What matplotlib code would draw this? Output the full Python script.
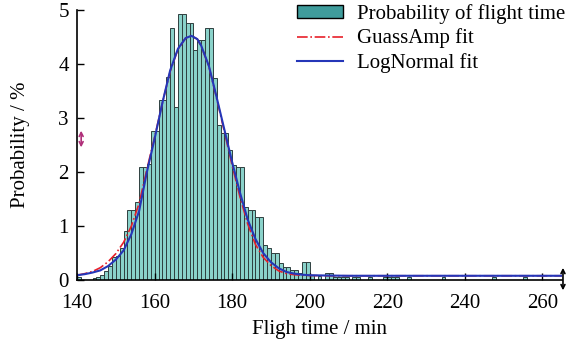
import matplotlib
matplotlib.use("Agg")
import matplotlib.pyplot as plt
from matplotlib.patches import Patch, FancyArrowPatch
from matplotlib.lines import Line2D

plt.rcParams['font.family'] = ['Liberation Serif', 'DejaVu Serif']
plt.rcParams['font.size'] = 15

# histogram: left edge of 1-min bins and probability (%)
bin_left = list(range(140, 265))
prob = [0.06, 0.0, 0.0, 0.0, 0.04, 0.05, 0.10, 0.17, 0.26, 0.43,   # 140-149
        0.45, 0.60, 0.90, 1.30, 1.30, 1.45, 2.10, 2.10, 2.15, 2.75,   # 150-159
        2.75, 3.33, 3.33, 3.75, 4.66, 3.20, 4.93, 4.93, 4.75, 4.75,   # 160-169
        4.26, 4.44, 4.44, 4.66, 4.66, 3.74, 2.87, 2.72, 2.72, 2.40,   # 170-179
        2.13, 2.10, 2.10, 1.35, 1.30, 1.30, 1.17, 1.17, 0.65, 0.60,   # 180-189
        0.50, 0.50, 0.31, 0.24, 0.24, 0.19, 0.19, 0.14, 0.33, 0.33,   # 190-199
        0.10, 0.0, 0.07, 0.0, 0.14, 0.14, 0.05, 0.05, 0.05, 0.05,     # 200-209
        0.0, 0.05, 0.05, 0.0, 0.0, 0.05, 0.0, 0.0, 0.0, 0.05,         # 210-219
        0.05, 0.05, 0.05, 0.0, 0.0, 0.05, 0.0, 0.0, 0.0, 0.0,         # 220-229
        0.0, 0.0, 0.0, 0.0, 0.05, 0.0, 0.0, 0.0, 0.0, 0.0,            # 230-239
        0.0, 0.0, 0.0, 0.0, 0.0, 0.0, 0.0, 0.05, 0.0, 0.0,            # 240-249
        0.0, 0.0, 0.0, 0.0, 0.0, 0.05, 0.0, 0.0, 0.0, 0.0,            # 250-259
        0.0, 0.0, 0.0, 0.0, 0.0]                                      # 260-264

# fitted curves
fit_t = [140, 142, 144, 146, 148, 150, 152, 154, 156, 158, 160, 162, 164, 166,
         168, 169.5, 171, 172, 174, 176, 178, 180, 182, 184, 186, 188, 190, 192,
         194, 196, 198, 200, 204, 210, 265]
lognormal = [0.09, 0.11, 0.14, 0.18, 0.26, 0.38, 0.55, 0.85, 1.28, 2.00, 2.62,
             3.28, 3.88, 4.28, 4.48, 4.52, 4.46, 4.34, 3.96, 3.38, 2.78, 2.18,
             1.62, 1.12, 0.76, 0.50, 0.33, 0.22, 0.15, 0.12, 0.10, 0.09, 0.085,
             0.08, 0.08]
gaussamp = [0.09, 0.12, 0.16, 0.23, 0.34, 0.49, 0.70, 1.00, 1.42, 2.05, 2.65,
            3.28, 3.86, 4.27, 4.48, 4.52, 4.46, 4.33, 3.95, 3.36, 2.74, 2.12,
            1.54, 1.04, 0.66, 0.42, 0.27, 0.17, 0.12, 0.10, 0.09, 0.085, 0.08,
            0.08, 0.08]

fig = plt.figure(figsize=(5.84, 3.42), dpi=100)
ax = fig.add_axes([0.132, 0.181, 0.83, 0.79])

ax.bar(bin_left, prob, width=1, align='edge', color='#8ad2ca',
       edgecolor='#2f3f3f', linewidth=0.7)
ax.plot(fit_t, gaussamp, color='#e8202a', linestyle='-.', linewidth=1.2)
ax.plot(fit_t, lognormal, color='#2536b8', linewidth=1.5)

ax.set_xlim(140, 265)
ax.set_ylim(0, 5)
ax.set_xticks([140, 160, 180, 200, 220, 240, 260])
ax.set_yticks([0, 1, 2, 3, 4, 5])
ax.tick_params(direction='in', length=5, width=1, colors='black')
ax.tick_params(axis='x', pad=10)
ax.tick_params(axis='y', pad=6)
for s in ['top', 'right']:
    ax.spines[s].set_visible(False)
ax.spines['left'].set_linewidth(1.2)
ax.spines['bottom'].set_linewidth(1.2)
ax.set_xlabel('Fligh time / min', labelpad=5)
ax.set_ylabel('Probability / %', labelpad=20)

handles = [Patch(facecolor='#3f9c9c', edgecolor='black', linewidth=1),
           Line2D([], [], color='#e8202a', linestyle='-.', linewidth=1.2),
           Line2D([], [], color='#2536b8', linewidth=1.5)]
labels = ['Probability of flight time', 'GuassAmp fit', 'LogNormal fit']
fig.legend(handles, labels, loc='upper right', bbox_to_anchor=(0.99, 1.025),
           frameon=False, handlelength=2.2, handleheight=0.55,
           handletextpad=0.7, labelspacing=0.22, borderpad=0.1)

# small double-arrow marks seen on the original
fig.patches.append(FancyArrowPatch(
    (0.139, 0.561), (0.139, 0.626), transform=fig.transFigure,
    arrowstyle='<->', mutation_scale=7, color='#b0307a', linewidth=1.2))
fig.patches.append(FancyArrowPatch(
    (0.964, 0.143), (0.964, 0.225), transform=fig.transFigure,
    arrowstyle='<->', mutation_scale=7, color='black', linewidth=1.2))

fig.savefig('out.png', dpi=100)
